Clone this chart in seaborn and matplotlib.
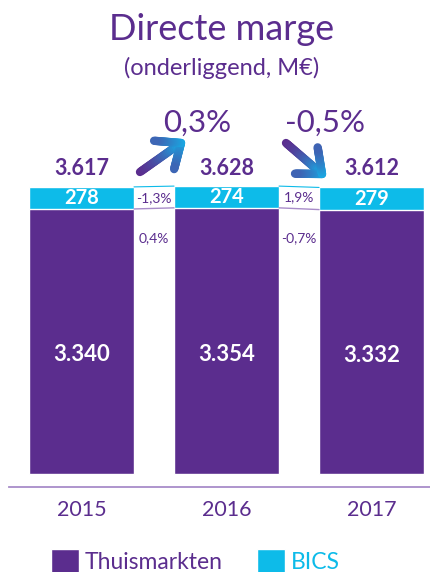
import numpy as np
import pandas as pd
import matplotlib
matplotlib.use("Agg")
import matplotlib.pyplot as plt
import seaborn as sns
from matplotlib.collections import LineCollection
from matplotlib.colors import to_rgb
from matplotlib.patches import Patch

# ---- data ----
years = ["2015", "2016", "2017"]
thuismarkten = [3340, 3354, 3332]
bics = [278, 274, 279]
total_labels = ["3.617", "3.628", "3.612"]
thuis_labels = ["3.340", "3.354", "3.332"]
bics_labels = ["278", "274", "279"]
total_growth = ["0,3%", "-0,5%"]
bics_growth = ["-1,3%", "1,9%"]
thuis_growth = ["0,4%", "-0,7%"]

PURPLE = "#5b2d8e"
CYAN = "#0dbbe9"
AXIS = "#a88cc9"

sns.set_theme(style="white")
plt.rcParams["font.family"] = ["Lato", "DejaVu Sans"]

df = pd.DataFrame({"year": years, "thuis": thuismarkten, "bics": bics})
df["total"] = df["thuis"] + df["bics"]

fig = plt.figure(figsize=(4.3, 5.72), dpi=100)
ax = fig.add_axes([9 / 430, 1 - 487 / 572, 421 / 430, (487 - 100) / 572])

W = 0.724
sns.barplot(data=df, x="year", y="total", color=CYAN, saturation=1, width=W, ax=ax)
sns.barplot(data=df, x="year", y="thuis", color=PURPLE, saturation=1, width=W, ax=ax)

ax.set_xlim(-0.5, 2.403)
ax.set_ylim(-164, 4713)
ax.set_xlabel("")
ax.set_ylabel("")
ax.set_yticks([])
for s in ["left", "right", "top"]:
    ax.spines[s].set_visible(False)
ax.spines["bottom"].set_color(AXIS)
ax.spines["bottom"].set_linewidth(1.3)
ax.tick_params(axis="x", length=0, pad=9, labelsize=15.5, labelcolor=PURPLE)

# labels on bars
for i in range(len(years)):
    t, b = thuismarkten[i], bics[i]
    ax.text(i, t * 0.45, thuis_labels[i], ha="center", va="center",
            color="white", fontsize=16, fontweight="bold")
    ax.text(i, t + b / 2, bics_labels[i], ha="center", va="center",
            color="white", fontsize=14.5, fontweight="bold")
    ax.text(i, 3844, total_labels[i], ha="center", va="center",
            color=PURPLE, fontsize=15.5, fontweight="bold")

# connecting lines & gap labels
for i in range(len(years) - 1):
    x0, x1 = i + W / 2, i + 1 - W / 2
    ax.plot([x0, x1], [df["total"][i], df["total"][i + 1]], color=CYAN, lw=0.8)
    ax.plot([x0, x1], [thuismarkten[i], thuismarkten[i + 1]], color=AXIS, lw=1.0)
    ax.text(i + 0.5, (df["total"][i] + thuismarkten[i]) / 2, bics_growth[i],
            ha="center", va="center", color=PURPLE, fontsize=10)
    ax.text(i + 0.5, 2974, thuis_growth[i], ha="center", va="center",
            color=PURPLE, fontsize=10)

# growth labels
ax.text(0.80, 4423, total_growth[0], ha="center", va="center", color=PURPLE, fontsize=22.5)
ax.text(1.679, 4423, total_growth[1], ha="center", va="center", color=PURPLE, fontsize=22.5)

# gradient arrows (computed in display space)
c0 = np.array(to_rgb(PURPLE))
c1 = np.array(to_rgb("#19a9e3"))
H = 572


def grad_arrow(tail, tip, arm=27, ang=40, lw=6):
    tail = np.array([tail[0], H - tail[1]], float)
    tip = np.array([tip[0], H - tip[1]], float)
    d = tip - tail
    L = np.linalg.norm(d)
    u = d / L
    r = -u
    strokes = [(tail, tip)]
    for a in (ang, -ang):
        th = np.deg2rad(a)
        R = np.array([[np.cos(th), -np.sin(th)], [np.sin(th), np.cos(th)]])
        strokes.append((tip, tip + R @ r * arm))
    inv = ax.transData.inverted()
    segs, cols = [], []
    for p, q in strokes:
        pts = np.linspace(p, q, 25)
        for k in range(len(pts) - 1):
            a_, b_ = pts[k], pts[k + 1]
            mid = (a_ + b_) / 2
            t = np.clip(np.dot(mid - tail, u) / L, 0, 1) ** 1.5
            segs.append([inv.transform(a_), inv.transform(b_)])
            cols.append(c0 * (1 - t) + c1 * t)
    lc = LineCollection(segs, colors=cols, linewidths=lw, capstyle="round",
                        joinstyle="round", zorder=5)
    ax.add_collection(lc)


grad_arrow((140, 172), (181, 143))
grad_arrow((286, 143), (322, 174))

# titles
fig.text(222 / 430, 1 - 29 / 572, "Directe marge", ha="center", va="center",
         color=PURPLE, fontsize=26)
fig.text(222 / 430, 1 - 68 / 572, "(onderliggend, M€)", ha="center", va="center",
         color=PURPLE, fontsize=17)

# legend
handles = [Patch(facecolor=PURPLE), Patch(facecolor=CYAN)]
fig.legend(handles, ["Thuismarkten", "BICS"], loc="center left",
           bbox_to_anchor=(51 / 430, 1 - 561 / 572), ncol=2, frameon=False,
           labelcolor=[PURPLE, CYAN], fontsize=16.5, handlelength=1.22,
           handleheight=1.22, handletextpad=0.26, columnspacing=1.5, borderpad=0,
           borderaxespad=0)

fig.savefig("out.png", dpi=100)
